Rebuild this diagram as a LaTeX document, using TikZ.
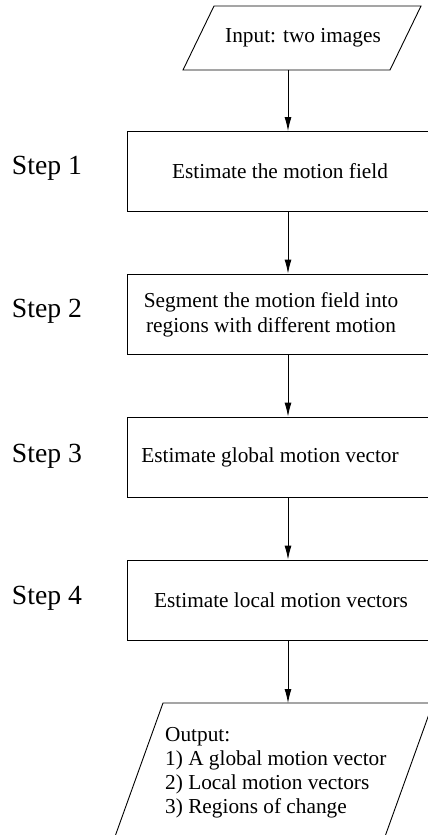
\documentclass[tikz,border=0pt]{standalone}
\usepackage{fontspec}
\setmainfont{Liberation Serif}
\usetikzlibrary{arrows.meta}
\begin{document}
\begin{tikzpicture}[x=1pt,y=-1pt,
  stepbox/.style={draw, line width=0.9pt, minimum width=306pt, minimum height=80pt, inner sep=0pt},
  boxtext/.style={font=\fontsize{21.3}{25.5}\selectfont, align=center, inner sep=0pt},
  steplabel/.style={font=\fontsize{27.7}{33}\selectfont, inner sep=0pt},
  arr/.style={-{Latex[length=14pt,width=7pt]}, line width=0.9pt},
  io/.style={draw, line width=0.9pt, line join=miter}]
\useasboundingbox (0,0) rectangle (428,835);
\clip (0,0) rectangle (428,835);

% input parallelogram
\draw[io] (214,6) -- (421,6) -- (390,70) -- (183,70) -- cycle;
\node[boxtext] (input) at (303,38) {Input: two images};
\coordinate (inS) at (288,70);

% processing steps
\node[stepbox] (b1) at (280,171.5) {};
\node[boxtext] (t1) at (280,171.5) {Estimate the motion field};
\node[stepbox] (b2) at (280,314) {};
\node[boxtext] (t2) at (271,315) {Segment the motion field into\\regions with different motion};
\node[stepbox] (b3) at (280,457) {};
\node[boxtext] (t3) at (270,457) {Estimate global motion vector};
\node[stepbox] (b4) at (280,600) {};
\node[boxtext] (t4) at (281,600) {Estimate local motion vectors};

% step labels
\node[steplabel] (s1) at (47,168) {Step 1};
\node[steplabel] (s2) at (47,311) {Step 2};
\node[steplabel] (s3) at (47,456) {Step 3};
\node[steplabel] (s4) at (47,598) {Step 4};

% output parallelogram
\draw[io] (163,703) -- (433,703) -- (378,856) -- (108,856) -- cycle;
\coordinate (outN) at (288,703);
\node[boxtext, font=\fontsize{21.3}{24}\selectfont, align=left, anchor=north west] (output) at (165,727)
  {Output:\\1) A global motion vector\\2) Local motion vectors\\3) Regions of change};

% connectors
\draw[arr] (inS) -- (inS |- b1.north);
\draw[arr] (inS |- b1.south) -- (inS |- b2.north);
\draw[arr] (inS |- b2.south) -- (inS |- b3.north);
\draw[arr] (inS |- b3.south) -- (inS |- b4.north);
\draw[arr] (inS |- b4.south) -- (outN);
\end{tikzpicture}
\end{document}
